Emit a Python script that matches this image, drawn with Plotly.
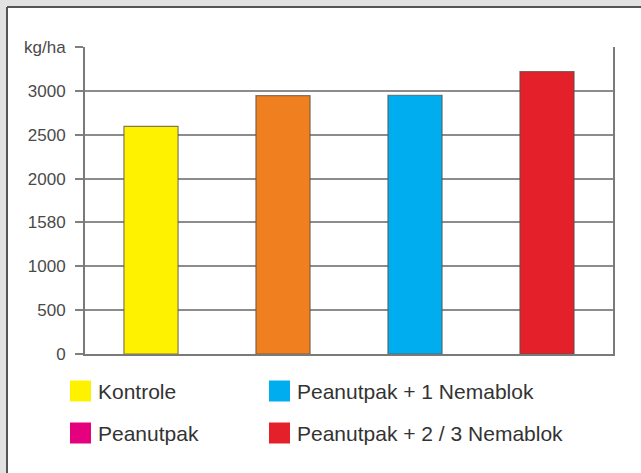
import plotly.graph_objects as go

# ---- data ----
categories = ["Kontrole", "Peanutpak", "Peanutpak + 1 Nemablok", "Peanutpak + 2 / 3 Nemablok"]
values = [2595, 2945, 2950, 3220]
bar_colors = ["#FFF200", "#EF7F1F", "#00AEEF", "#E4202A"]
tick_vals = [0, 500, 1000, 1500, 2000, 2500, 3000, 3500]
tick_text = ["0", "500", "1000", "1580", "2000", "2500", "3000", "kg/ha"]
legend_labels = ["Kontrole", "Peanutpak + 1 Nemablok", "Peanutpak", "Peanutpak + 2 / 3 Nemablok"]
legend_colors = ["#FFF200", "#00AEEF", "#E5007E", "#E4202A"]

W, H = 641, 473
L, R, T, B = 85, 28, 47, 119
PW, PH = W - L - R, H - T - B

def px(x):
    return (x - L) / PW

def py(y):
    return (H - B - y) / PH

fig = go.Figure()
fig.add_trace(go.Bar(
    x=categories, y=values,
    marker=dict(color=bar_colors, line=dict(color="rgba(90,80,70,0.75)", width=1.2)),
    width=0.41, showlegend=False, hoverinfo="x+y",
))

shapes = []
# outer gray frame (left and top strips) with dark border line
shapes.append(dict(type="rect", xref="paper", yref="paper", x0=px(0), x1=px(6), y0=py(H), y1=py(0),
                   fillcolor="#e2e2e2", line=dict(width=0), layer="below"))
shapes.append(dict(type="rect", xref="paper", yref="paper", x0=px(0), x1=px(W), y0=py(6), y1=py(0),
                   fillcolor="#e2e2e2", line=dict(width=0), layer="below"))
shapes.append(dict(type="line", xref="paper", yref="paper", x0=px(7), x1=px(7), y0=py(H), y1=py(7),
                   line=dict(color="#555555", width=2)))
shapes.append(dict(type="line", xref="paper", yref="paper", x0=px(7), x1=px(W), y0=py(7), y1=py(7),
                   line=dict(color="#555555", width=2)))

annotations = []
col_x = [70, 269]
row_y = [391, 433]
sq = 21
for i, (lab, col) in enumerate(zip(legend_labels, legend_colors)):
    cx = col_x[i % 2]
    cy = row_y[i // 2]
    shapes.append(dict(type="rect", xref="paper", yref="paper",
                       x0=px(cx), x1=px(cx + sq), y0=py(cy + sq / 2), y1=py(cy - sq / 2),
                       fillcolor=col, line=dict(width=0)))
    annotations.append(dict(xref="paper", yref="paper", x=px(cx + sq + 5), y=py(cy),
                            xanchor="left", yanchor="middle", text=lab, showarrow=False,
                            font=dict(family="Liberation Sans, Arial, sans-serif", size=21, color="#333333")))

fig.update_layout(
    width=W, height=H,
    margin=dict(l=L, r=R, t=T, b=B),
    paper_bgcolor="white", plot_bgcolor="white",
    shapes=shapes, annotations=annotations,
    bargap=0.59,
)
fig.update_xaxes(showticklabels=False, ticks="", showgrid=False,
                 showline=True, linecolor="#7a7a7a", linewidth=2, zeroline=False)
fig.update_yaxes(range=[0, 3500], tickvals=tick_vals, ticktext=tick_text,
                 ticks="outside", ticklen=8, tickcolor="#808080", tickwidth=2,
                 ticklabelstandoff=6,
                 showgrid=True, gridcolor="#8c8c8c", gridwidth=2,
                 showline=True, mirror=True, linecolor="#7a7a7a", linewidth=2,
                 zeroline=False,
                 tickfont=dict(family="Liberation Sans, Arial, sans-serif", size=17, color="#4a4a4a"))

fig.write_html("out.html")
